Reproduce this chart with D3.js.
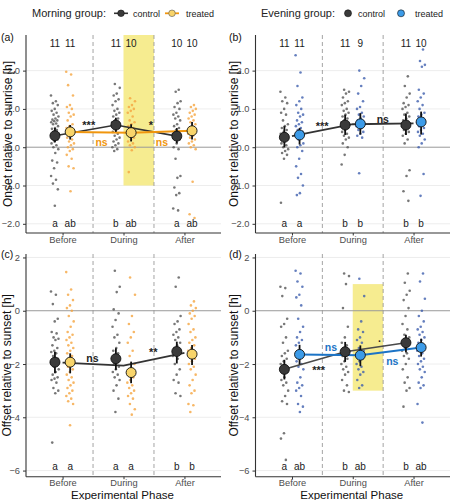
<!DOCTYPE html>
<html><head><meta charset="utf-8">
<script src="https://cdn.jsdelivr.net/npm/d3@7"></script>
<style>
body{margin:0;background:#fff;}
svg{display:block;font-family:"Liberation Sans",Arial,sans-serif;}
</style></head>
<body><svg id="c" width="450" height="500"></svg>
<script>
// ---------------- DATA ----------------
const phases = ["Before","During","After"];

// raw observations per phase [Before, During, After]
const aCtrl = [
 [1.35,1.2,1.15,1.1,1.0,0.95,0.9,0.85,0.8,0.75,0.72,0.7,0.68,0.65,0.62,0.6,0.55,0.5,0.48,0.45,0.4,0.35,0.3,0.25,0.2,0.15,0.1,0.05,0.0,-0.05,-0.15,-0.35,-0.4,-0.55,-0.75,-0.85,-0.95,-1.1,-1.53],
 [1.65,1.55,1.4,1.35,1.25,1.2,1.1,1.0,0.95,0.9,0.85,0.8,0.75,0.7,0.65,0.6,0.55,0.5,0.45,0.4,0.35,0.3,0.25,0.2,0.15,0.1,0.05,0.0,-0.05,-0.1],
 [1.5,1.45,1.2,1.15,1.05,1.0,0.9,0.85,0.8,0.75,0.7,0.6,0.55,0.5,0.45,0.35,0.3,0.25,0.2,0.1,0.0,-0.05,-0.3,-0.75,-0.8,-1.05,-1.2,-1.25,-1.6,-1.65]
];
const aTrt = [
 [1.97,1.9,1.62,1.35,1.1,1.05,1.0,0.9,0.85,0.8,0.7,0.6,0.55,0.5,0.45,0.4,0.35,0.3,0.25,0.2,0.15,0.1,0.05,0.0,-0.05,-0.1,-0.2,-0.3,-0.5,-0.55,-1.15],
 [1.28,1.2,1.1,1.05,1.0,0.95,0.9,0.8,0.7,0.65,0.6,0.55,0.5,0.45,0.4,0.35,0.3,0.25,0.2,0.15,0.1,0.05,0.0,-0.08,-0.65],
 [1.1,1.05,1.0,0.95,0.9,0.85,0.8,0.75,0.7,0.65,0.6,0.55,0.5,0.45,0.4,0.35,0.3,0.25,0.2,0.15,0.1,0.05,0.0,-0.05,-0.9,-1.75,-1.85]
];
const bCtrl = [
 [1.45,1.3,1.2,1.15,1.0,0.9,0.85,0.7,0.6,0.55,0.5,0.45,0.4,0.35,0.3,0.25,0.2,0.15,0.1,0.05,0.0,-0.05,-0.1,-0.15,-0.2,-0.3,-1.45],
 [1.5,1.45,1.4,1.3,1.2,1.15,1.1,1.0,0.95,0.9,0.85,0.8,0.75,0.7,0.65,0.6,0.55,0.5,0.45,0.4,0.35,0.3,0.25,0.2,0.1,0.0,-0.2,-0.45],
 [1.85,1.6,1.4,1.3,1.15,1.1,1.05,1.0,0.9,0.85,0.8,0.75,0.7,0.65,0.6,0.55,0.5,0.45,0.4,0.35,0.3,0.2,0.1,-0.6,-0.75,-1.15,-1.4]
];
const bTrt = [
 [2.4,1.95,1.6,1.3,1.2,1.1,1.0,0.9,0.85,0.8,0.7,0.65,0.6,0.55,0.5,0.45,0.4,0.35,0.3,0.25,0.2,0.1,0.05,0.0,-0.1,-0.3,-0.5,-0.7,-0.8,-1.0,-1.2,-1.25],
 [2.0,1.8,1.6,1.4,1.2,1.05,1.0,0.9,0.85,0.8,0.75,0.7,0.65,0.6,0.55,0.5,0.45,0.4,0.35,0.3,0.25,-0.68],
 [2.55,2.25,2.15,2.1,1.5,1.4,1.3,1.2,1.1,1.0,0.9,0.85,0.8,0.75,0.7,0.65,0.6,0.55,0.5,0.45,0.4,0.35,0.3,0.2,0.1,0.0,-0.7,-1.27]
];
const cCtrl = [
 [0.72,0.6,0.25,-0.3,-0.4,-0.8,-0.85,-1.0,-1.05,-1.1,-1.3,-1.4,-1.5,-1.55,-1.6,-1.7,-1.8,-1.9,-2.0,-2.05,-2.1,-2.2,-2.3,-2.4,-2.5,-2.55,-2.6,-2.7,-2.9,-3.0,-3.1,-4.95],
 [1.5,0.9,0.7,0.05,-0.1,-0.35,-0.6,-0.9,-1.0,-1.2,-1.4,-1.5,-1.6,-1.7,-1.8,-1.9,-2.0,-2.1,-2.2,-2.3,-2.4,-2.5,-2.6,-2.8,-3.0,-3.3,-3.8],
 [1.25,0.9,-0.2,-0.4,-0.5,-0.7,-0.8,-0.9,-1.0,-1.1,-1.2,-1.3,-1.4,-1.5,-1.6,-1.7,-1.8,-2.0,-2.2,-2.4,-2.6,-2.7,-3.1,-3.2]
];
const cTrt = [
 [1.45,0.8,0.6,0.4,0.2,0.1,0.0,-0.2,-0.4,-0.6,-0.8,-0.9,-1.0,-1.1,-1.2,-1.3,-1.4,-1.5,-1.6,-1.7,-1.8,-1.9,-2.0,-2.1,-2.2,-2.3,-2.4,-2.5,-2.6,-2.7,-2.8,-2.9,-3.0,-3.1,-3.2,-3.3,-3.4,-3.5,-4.3],
 [1.25,0.6,-0.2,-0.5,-0.8,-1.0,-1.2,-1.5,-1.7,-2.0,-2.2,-2.4,-2.5,-2.6,-2.7,-2.8,-2.9,-3.0,-3.1,-3.2,-3.3,-3.5,-3.7,-3.9],
 [0.35,0.2,0.1,0.0,-0.1,-0.2,-0.3,-0.5,-0.7,-0.8,-1.0,-1.1,-1.2,-1.3,-1.4,-1.5,-1.6,-1.7,-1.8,-1.9,-2.0,-2.1,-2.2,-2.4,-2.6,-2.8,-3.0,-3.1,-3.5,-3.55,-3.8]
];
const dCtrl = [
 [0.9,0.85,0.55,-0.3,-0.5,-0.6,-1.0,-1.2,-1.5,-1.6,-1.7,-1.8,-1.9,-2.0,-2.1,-2.2,-2.3,-2.5,-2.6,-2.7,-2.8,-3.0,-3.2,-3.4,-3.5,-4.6,-4.8,-5.6],
 [1.4,1.3,1.0,0.1,-0.6,-1.0,-1.2,-1.3,-1.4,-1.5,-1.6,-1.7,-1.8,-1.9,-2.0,-2.1,-2.2,-2.3,-2.4,-2.6,-2.8,-3.0,-3.05],
 [1.4,1.05,0.75,0.6,0.4,0.1,-0.2,-0.5,-0.7,-0.9,-1.0,-1.1,-1.2,-1.3,-1.4,-1.5,-1.6,-1.7,-1.8,-2.0,-2.2,-2.5,-2.7,-2.9,-3.0,-3.6]
];
const dTrt = [
 [1.5,1.4,1.1,0.9,0.6,0.5,0.2,-0.3,-0.6,-0.8,-1.0,-1.1,-1.2,-1.3,-1.5,-1.6,-1.7,-1.8,-1.9,-2.0,-2.1,-2.2,-2.5,-2.7,-2.8,-2.9,-3.0,-3.2,-3.5,-3.6,-3.8],
 [1.2,0.55,-0.4,-0.7,-0.8,-1.0,-1.1,-1.2,-1.4,-1.5,-1.6,-1.7,-1.8,-1.9,-2.0,-2.1,-2.2,-2.3,-2.4,-2.6,-2.8,-2.9],
 [1.4,1.1,0.45,0.0,-0.2,-0.4,-0.6,-0.7,-0.8,-0.9,-1.0,-1.1,-1.2,-1.3,-1.4,-1.5,-1.6,-1.7,-1.8,-1.9,-2.0,-2.1,-2.2,-2.3,-2.5,-2.7,-2.8,-2.9,-3.5,-4.2]
];

// model means and CIs [Before, During, After]
const aCtrlMean=[0.30,0.58,0.29], aCtrlLo=[0.13,0.40,0.10], aCtrlHi=[0.50,0.77,0.50];
const aTrtMean=[0.40,0.38,0.43],  aTrtLo=[0.20,0.15,0.20],  aTrtHi=[0.58,0.60,0.66];
const bCtrlMean=[0.26,0.58,0.58], bCtrlLo=[0.00,0.32,0.32], bCtrlHi=[0.55,0.85,0.88];
const bTrtMean=[0.32,0.61,0.66],  bTrtLo=[0.07,0.33,0.33],  bTrtHi=[0.50,0.89,0.93];
const bPooled=[0.29,0.60,0.62];
const cCtrlMean=[-1.93,-1.80,-1.53], cCtrlLo=[-2.35,-2.22,-1.98], cCtrlHi=[-1.54,-1.41,-1.16];
const cTrtMean=[-1.93,-2.32,-1.63],  cTrtLo=[-2.35,-2.72,-2.04],  cTrtHi=[-1.60,-1.91,-1.29];
const cPooled=[-1.95,-2.06,-1.58];
const dCtrlMean=[-2.20,-1.54,-1.20], dCtrlLo=[-2.58,-1.92,-1.57], dCtrlHi=[-1.84,-1.17,-0.90];
const dTrtMean=[-1.64,-1.67,-1.38],  dTrtLo=[-2.02,-2.08,-1.72],  dTrtHi=[-1.28,-1.30,-1.05];

// sample sizes and letters
const aCtrlN=[11,11,10], aTrtN=[11,10,10];
const bCtrlN=[11,11,11], bTrtN=[11,9,10];
const aCtrlLet=["a","b","a"], aTrtLet=["ab","ab","ab"];
const bCtrlLet=["a","b","b"], bTrtLet=["a","b","b"];
const cCtrlLet=["a","a","b"], cTrtLet=["a","a","b"];
const dCtrlLet=["a","b","b"], dTrtLet=["ab","ab","ab"];

const yTicksTop=[-2,-1,0,1,2];
const yTicksBottom=[-6,-4,-2,0,2];

// ---------------- DRAW ----------------
const svg=d3.select("#c");
const COL={ctrlPt:"#555555",ctrlFill:"#3a3a3a",ctrlLine:"#333333",
  orangePt:"#F5A540",orangeLine:"#F0960E",yellowFill:"#F8D46A",
  bluePt:"#3F5FAE",blueFill:"#3C9BE8",blueLine:"#1C74C6",hl:"#F6EC90"};

const panels=[
 {lab:"(a)",x0:26,x1:221,y0:35,y1:233,dom:[-2.24,2.93],ticks:yTicksTop,title:"Onset relative to sunrise [h]",tx:12,
  ctrl:aCtrl,trt:aTrt,trtPt:COL.orangePt,trtFill:COL.yellowFill,
  cm:[aCtrlMean,aCtrlLo,aCtrlHi],tm:[aTrtMean,aTrtLo,aTrtHi],
  lines:[{vals:aCtrlMean,dx:-0.125,col:COL.ctrlLine,w:1.6},{vals:aTrtMean,dx:0.125,col:COL.orangeLine,w:2}],
  hl:{x:[2,2.5],y:[-1,null]}, n:[aCtrlN,aTrtN], lets:[aCtrlLet,aTrtLet], letY:-1.98, xlab:false,
  ann:[{t:"***",x:1.43,y:0.63,c:"#222",ast:1},{t:"ns",x:1.64,y:0.14,c:COL.orangeLine},{t:"*",x:2.45,y:0.64,c:"#222",ast:1},{t:"ns",x:2.63,y:0.14,c:COL.orangeLine}]},
 {lab:"(b)",x0:255.5,x1:450,y0:35,y1:233,dom:[-2.24,2.93],ticks:yTicksTop,title:"Onset relative to sunrise [h]",tx:238,
  ctrl:bCtrl,trt:bTrt,trtPt:COL.bluePt,trtFill:COL.blueFill,
  cm:[bCtrlMean,bCtrlLo,bCtrlHi],tm:[bTrtMean,bTrtLo,bTrtHi],
  lines:[{vals:bPooled,dx:0,col:COL.ctrlLine,w:1.8}],
  hl:null, n:[bCtrlN,bTrtN], lets:[bCtrlLet,bTrtLet], letY:-1.98, xlab:false,
  ann:[{t:"***",x:1.495,y:0.61,c:"#222",ast:1},{t:"ns",x:2.495,y:0.74,c:"#222"}]},
 {lab:"(c)",x0:26,x1:221,y0:254,y1:476.7,dom:[-6.23,2.13],ticks:yTicksBottom,title:"Offset relative to sunset [h]",tx:11,
  ctrl:cCtrl,trt:cTrt,trtPt:COL.orangePt,trtFill:COL.yellowFill,
  cm:[cCtrlMean,cCtrlLo,cCtrlHi],tm:[cTrtMean,cTrtLo,cTrtHi],
  lines:[{vals:cPooled,dx:0,col:COL.ctrlLine,w:1.8}],
  hl:null, n:null, lets:[cCtrlLet,cTrtLet], letY:-5.85, xlab:true,
  ann:[{t:"ns",x:1.49,y:-1.76,c:"#222"},{t:"**",x:2.49,y:-1.47,c:"#222",ast:1}]},
 {lab:"(d)",x0:255.5,x1:450,y0:254,y1:476.7,dom:[-6.23,2.13],ticks:yTicksBottom,title:"Offset relative to sunset [h]",tx:238,
  ctrl:dCtrl,trt:dTrt,trtPt:COL.bluePt,trtFill:COL.blueFill,
  cm:[dCtrlMean,dCtrlLo,dCtrlHi],tm:[dTrtMean,dTrtLo,dTrtHi],
  lines:[{vals:dCtrlMean,dx:-0.125,col:"#4a4a4a",w:1.6},{vals:dTrtMean,dx:0.125,col:COL.blueLine,w:2}],
  hl:{x:[2,2.5],y:[-3,1]}, n:null, lets:[dCtrlLet,dTrtLet], letY:-5.85, xlab:true,
  ann:[{t:"ns",x:1.64,y:-1.37,c:COL.blueLine},{t:"***",x:1.44,y:-2.16,c:"#222",ast:1},{t:"ns",x:2.65,y:-1.87,c:COL.blueLine},{t:".",x:2.44,y:-1.02,c:"#222"}]}
];

const DODGE=0.125, JIT=0.065;

panels.forEach(p=>{
  const x=d3.scaleLinear().domain([0.4,3.6]).range([p.x0,p.x1]);
  const y=d3.scaleLinear().domain(p.dom).range([p.y1,p.y0]);
  const g=svg.append("g");
  // grid
  g.selectAll("line.grid").data(p.ticks.filter(t=>t!==0)).join("line")
    .attr("x1",p.x0).attr("x2",p.x1).attr("y1",d=>y(d)).attr("y2",d=>y(d))
    .attr("stroke","#EBEBEB").attr("stroke-width",0.9);
  // highlight
  if(p.hl){
    const yt=p.hl.y[1]===null?p.y0:y(p.hl.y[1]);
    g.append("rect").attr("x",x(p.hl.x[0])).attr("width",x(p.hl.x[1])-x(p.hl.x[0]))
     .attr("y",yt).attr("height",y(p.hl.y[0])-yt).attr("fill",COL.hl);
  }
  // zero line
  g.append("line").attr("x1",p.x0).attr("x2",p.x1).attr("y1",y(0)).attr("y2",y(0))
    .attr("stroke","#9a9a9a").attr("stroke-width",1);
  // dashed phase separators
  g.selectAll("line.sep").data([1.5,2.5]).join("line")
    .attr("x1",d=>x(d)).attr("x2",d=>x(d)).attr("y1",p.y0).attr("y2",p.y1)
    .attr("stroke","#9a9a9a").attr("stroke-width",0.9).attr("stroke-dasharray","4,3");
  // raw points
  const pts=[];
  [[p.ctrl,-DODGE,COL.ctrlPt],[p.trt,DODGE,p.trtPt]].forEach(([arr,dx,col])=>{
    arr.forEach((vals,pi)=>vals.forEach((v,i)=>{
      const j=(((i*0.6180339887+pi*0.37)%1)-0.5)*2*JIT;
      pts.push({x:pi+1+dx+j,y:v,col});
    }));
  });
  g.selectAll("circle.pt").data(pts).join("circle")
    .attr("cx",d=>x(d.x)).attr("cy",d=>y(d.y)).attr("r",1.3)
    .attr("fill",d=>d.col).attr("opacity",0.8);
  // lines
  p.lines.forEach(L=>{
    g.append("path").datum(L.vals)
     .attr("d",d3.line().x((d,i)=>x(i+1+L.dx)).y(d=>y(d)))
     .attr("fill","none").attr("stroke",L.col).attr("stroke-width",L.w);
  });
  // error bars + means
  [[p.cm,-DODGE,COL.ctrlFill],[p.tm,DODGE,p.trtFill]].forEach(([m,dx,fill])=>{
    phases.forEach((ph,i)=>{
      g.append("line").attr("x1",x(i+1+dx)).attr("x2",x(i+1+dx))
       .attr("y1",y(m[1][i])).attr("y2",y(m[2][i])).attr("stroke","#111").attr("stroke-width",1.8);
      g.append("circle").attr("cx",x(i+1+dx)).attr("cy",y(m[0][i])).attr("r",5)
       .attr("fill",fill).attr("stroke","#111").attr("stroke-width",0.9);
    });
  });
  // annotations
  p.ann.forEach(a=>{
    g.append("text").attr("x",x(a.x)).attr("y",y(a.y)+(a.ast?6:4)).attr("text-anchor","middle")
     .attr("font-size",a.ast?11:10.5).attr("font-weight","bold").attr("fill",a.c).text(a.t);
  });
  // counts
  if(p.n){
    [[p.n[0],-DODGE],[p.n[1],DODGE]].forEach(([arr,dx])=>arr.forEach((v,i)=>{
      g.append("text").attr("x",x(i+1+dx)).attr("y",p.y0+12).attr("text-anchor","middle")
       .attr("font-size",10).attr("fill","#1a1a1a").text(v);
    }));
  }
  // letters
  [[p.lets[0],-DODGE],[p.lets[1],DODGE]].forEach(([arr,dx])=>arr.forEach((v,i)=>{
    g.append("text").attr("x",x(i+1+dx)).attr("y",y(p.letY)+3.5).attr("text-anchor","middle")
     .attr("font-size",10).attr("fill","#1a1a1a").text(v);
  }));
  // axes
  const ya=g.append("g").attr("transform",`translate(${p.x0},0)`)
    .call(d3.axisLeft(y).tickValues(p.ticks).tickSize(3).tickPadding(3));
  const xa=g.append("g").attr("transform",`translate(0,${p.y1})`)
    .call(d3.axisBottom(x).tickValues([1,2,3]).tickFormat(d=>phases[d-1]).tickSize(2.5).tickPadding(0.5));
  [ya,xa].forEach(a=>{
    a.select(".domain").attr("stroke","#333").attr("stroke-width",1.1);
    a.selectAll(".tick line").attr("stroke","#333");
    a.selectAll(".tick text").attr("fill","#4d4d4d").attr("font-size",9.3)
      .attr("font-family","Liberation Sans, Arial, sans-serif");
  });
  ya.select(".domain").attr("d",`M0,${p.y0}V${p.y1}`);
  xa.select(".domain").attr("d",`M${p.x0},0H${p.x1}`);
  // y title
  svg.append("text").attr("transform",`translate(${p.tx},${(p.y0+p.y1)/2}) rotate(-90)`)
    .attr("text-anchor","middle").attr("font-size",12).attr("fill","#111").text(p.title);
  // panel label
  svg.append("text").attr("x",p.x0<100?1:229).attr("y",p.y0+(p.y0<100?6:4)).attr("font-size",10.5)
    .attr("fill","#111").text(p.lab);
  if(p.xlab){
    svg.append("text").attr("x",(p.x0+p.x1)/2-1).attr("y",499).attr("text-anchor","middle")
      .attr("font-size",11.5).attr("fill","#111").text("Experimental Phase");
  }
});

// legends
const lg=svg.append("g").attr("font-size",9).attr("fill","#222");
lg.append("text").attr("x",32).attr("y",17).attr("font-size",11).text("Morning group:");
lg.append("line").attr("x1",114).attr("x2",128).attr("y1",13.3).attr("y2",13.3).attr("stroke",COL.ctrlLine).attr("stroke-width",1.6);
lg.append("circle").attr("cx",121).attr("cy",13.3).attr("r",3.3).attr("fill",COL.ctrlFill).attr("stroke","#111").attr("stroke-width",0.6);
lg.append("text").attr("x",133).attr("y",16.5).text("control");
lg.append("line").attr("x1",165).attr("x2",179).attr("y1",13.3).attr("y2",13.3).attr("stroke",COL.orangeLine).attr("stroke-width",1.8);
lg.append("circle").attr("cx",172).attr("cy",13.3).attr("r",3.3).attr("fill",COL.yellowFill).attr("stroke","#555").attr("stroke-width",0.6);
lg.append("text").attr("x",186).attr("y",16.5).text("treated");

lg.append("text").attr("x",261).attr("y",17).attr("font-size",11).text("Evening group:");
lg.append("circle").attr("cx",348).attr("cy",13.3).attr("r",3.5).attr("fill",COL.ctrlFill).attr("stroke","#111").attr("stroke-width",0.6);
lg.append("text").attr("x",358).attr("y",16.5).text("control");
lg.append("circle").attr("cx",401).attr("cy",13.3).attr("r",3.5).attr("fill",COL.blueFill).attr("stroke","#111").attr("stroke-width",0.6);
lg.append("text").attr("x",415).attr("y",16.5).text("treated");
</script></body></html>
